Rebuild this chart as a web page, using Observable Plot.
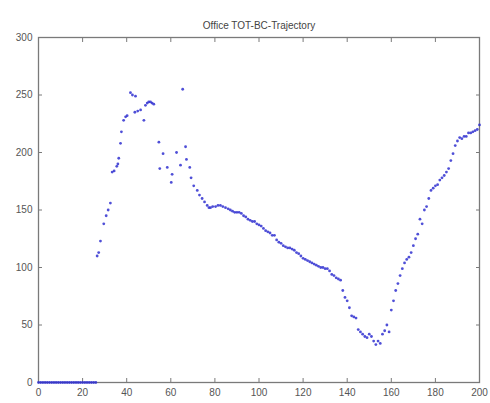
<!DOCTYPE html>
<html><head><meta charset="utf-8">
<script src="https://cdn.jsdelivr.net/npm/d3@7"></script>
<script src="https://cdn.jsdelivr.net/npm/@observablehq/plot@0.6"></script>
<style>body{margin:0;background:#fff} svg{display:block}</style>
</head><body><div id="chart"></div>
<script>
const title = "Office TOT-BC-Trajectory";
const xTicks = [0, 20, 40, 60, 80, 100, 120, 140, 160, 180, 200];
const yTicks = [0, 50, 100, 150, 200, 250, 300];

const trajX = [
  0,1,2,3,4,5,6,7,8,9,10,11,12,13,14,15,16,17,18,19,20,21,22,23,24,25,26,
  26.6,27.3,28.1,29.6,30.7,31.6,32.6,33.4,34.3,35.5,36,36.4,37.2,37.6,38.6,39.5,40.2,41.7,42.6,43.7,44,45,46.3,47.8,48.5,49.3,50,50.8,51.5,52.3,
  54.6,55,56.5,58.4,60.2,60.6,62.6,64.4,65.4,66.7,67.1,68.6,69.2,70.4,72,73,74.2,75.3,76.5,77.3,78,79,80.3,81.4,82.5,83.6,84.8,86,87,88,89,90,91,92,93,94,95,96,97,98,99,100,
  101,102,103,104,105,106,107,108,109,110,111,112,113,114,115,116,117,118,119,120,121,122,123,124,125,126,127,128,129,130,131,132,133,134,135,136,137,138,139,140,
  141,142,143,144,145,146,147,148,149,150,151,152,153,154,155,156,157,158,159,160,161,162,163,164,165,166,167,168,169,170,171,172,173,174,175,176,177,178,179,180,
  181,182,183,184,185,186,187,188,189,190,191,192,193,194,195,196,197,198,199,200
];
const trajY = [
  0,0,0,0,0,0,0,0,0,0,0,0,0,0,0,0,0,0,0,0,0,0,0,0,0,0,0,
  110,113,123,138,145,150,156,183,184,188,190,195,208,218,228,231,232,252,250,235,249,236,237,228,241,243,244,244,243,242,
  209,186,199,187,174,181,200,189,255,205,194,187,178,171,167,163,160,157,154,152,152,153,153,154,154,153,152,151,150,149,148,148,148,147,145,144,142,141,140,140,138,137,
  136,134,132,131,130,128,128,124,122,121,119,118,117,117,116,115,113,112,110,108,107,106,105,104,103,102,101,100,100,99,99,97,94,93,91,90,89,80,74,71,
  65,58,57,56,46,44,42,40,39,42,40,36,33,36,34,42,45,50,44,63,71,80,86,93,99,104,107,109,113,119,125,129,142,138,150,153,160,167,169,171,
  172,176,178,180,183,186,193,199,206,210,213,212,214,214,217,217,218,219,220,224
];

const points = trajX.map((x, i) => ({x, y: trajY[i]}));
const blank = () => "";

const chart = Plot.plot({
  width: 490, height: 403,
  marginLeft: 38, marginRight: 11, marginTop: 37, marginBottom: 21,
  style: {background: "#fff", fontFamily: "'Liberation Sans', Arial, sans-serif", fontSize: "10px", color: "#444"},
  x: {domain: [0, 200]},
  y: {domain: [0, 300]},
  marks: [
    Plot.frame({stroke: "#7a7a7a", strokeWidth: 1.3}),
    Plot.axisX(xTicks, {anchor: "bottom", tickSize: -4, tickPadding: 10, stroke: "#7a7a7a", fill: "#555", label: null}),
    Plot.axisX(xTicks, {anchor: "top", tickSize: -4, tickFormat: blank, stroke: "#7a7a7a", label: null}),
    Plot.axisY(yTicks, {anchor: "left", tickSize: -4, tickPadding: 10, stroke: "#7a7a7a", fill: "#555", label: null}),
    Plot.axisY(yTicks, {anchor: "right", tickSize: -4, tickFormat: blank, stroke: "#7a7a7a", label: null}),
    Plot.dot(points, {x: "x", y: "y", r: 1.4, fill: "#3030d0", stroke: "none", fillOpacity: 0.85}),
    Plot.text([title], {frameAnchor: "top", dy: -16, fontSize: 10, fill: "#444"})
  ]
});
document.getElementById("chart").append(chart);
</script>
</body></html>
